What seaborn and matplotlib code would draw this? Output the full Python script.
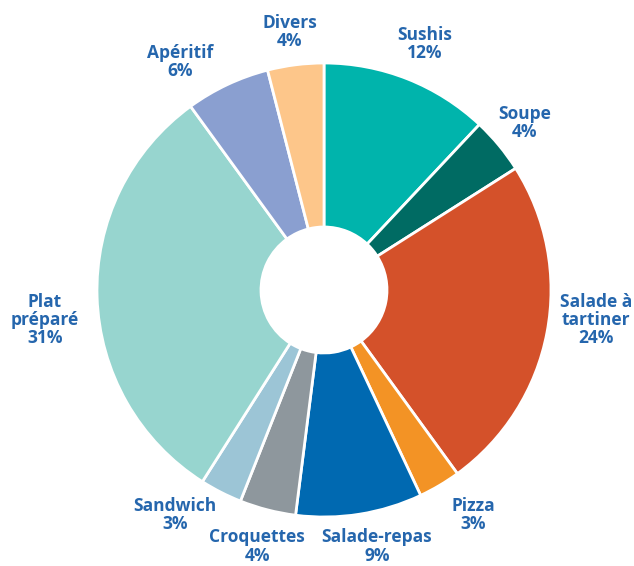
import matplotlib
matplotlib.use("Agg")
import matplotlib.pyplot as plt
import seaborn as sns

sns.set_theme(style="white")
plt.rcParams['font.family'] = ['Open Sans', 'DejaVu Sans']

# Data
categories = ['Sushis', 'Soupe', 'Salade à\ntartiner', 'Pizza', 'Salade-repas',
              'Croquettes', 'Sandwich', 'Plat\npréparé', 'Apéritif', 'Divers']
shares = [12, 4, 24, 3, 9, 4, 3, 31, 6, 4]
colors = ['#00b4ac', '#006b63', '#d4512a', '#f39325', '#0069b1',
          '#8e979d', '#9cc5d6', '#97d5cf', '#8a9fd0', '#fdc68a']

# label centres, in units of the pie radius
label_pos = [(0.445, 1.085), (0.885, 0.736), (1.198, -0.132), (0.656, -0.991),
             (0.233, -1.13), (-0.295, -1.13), (-0.656, -0.991),
             (-1.229, -0.132), (-0.634, 1.004), (-0.15, 1.137)]

W, H = 634, 566
cx, cy, r = 324, 290, 227

fig = plt.figure(figsize=(W / 100, H / 100), dpi=100)
ax = fig.add_axes([(cx - r) / W, (H - cy - r) / H, 2 * r / W, 2 * r / H])

ax.pie(shares, colors=colors, startangle=90, counterclock=False, radius=1,
       wedgeprops=dict(width=1 - 63 / 227, edgecolor='white', linewidth=2))
ax.set_xlim(-1, 1)
ax.set_ylim(-1, 1)
ax.set_aspect('equal')
ax.axis('off')

for name, val, (x, y) in zip(categories, shares, label_pos):
    ax.text(x, y, f'{name}\n{val}%', ha='center', va='center', fontsize=12.5,
            fontweight='bold', color='#2566ad', linespacing=1.02, clip_on=False)

fig.savefig('out.png', dpi=100)
